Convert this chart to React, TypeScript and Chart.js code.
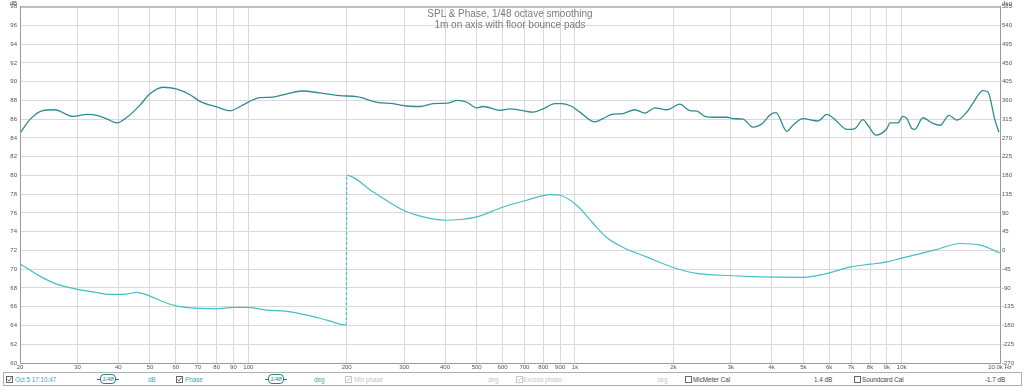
import React, { useEffect, useRef } from "react";
import { Chart, registerables } from "chart.js";

Chart.register(...registerables);

// ---------- data ----------
const xTickValues = [20, 30, 40, 50, 60, 70, 80, 90, 100, 200, 300, 400, 500, 600, 700, 800, 900, 1000, 2000, 3000, 4000, 5000, 6000, 7000, 8000, 9000, 10000, 20000];
const xTickLabels = ["20", "30", "40", "50", "60", "70", "80", "90", "100", "200", "300", "400", "500", "600", "700", "800", "900", "1k", "2k", "3k", "4k", "5k", "6k", "7k", "8k", "9k", "10k", "20.0k Hz"];

const splFreq = [20.1, 21.5, 23.5, 25.5, 29.1, 32.1, 34.4, 37, 39.6, 42.5, 46.6, 50, 54.8, 60.5, 66.3, 71.1, 80, 87.9, 95, 101, 108.6, 119, 131.4, 146, 165.7, 190.7, 215, 247.6, 277.2, 306, 335.3, 367.5, 405.5, 438.2, 467, 500.8, 522.5, 589.3, 632.3, 693, 743.6, 798, 868.5, 912.4, 978.6, 1035, 1150, 1217, 1297, 1402, 1525, 1637, 1756, 1910, 2094, 2247, 2361, 2498, 2720, 2918, 3044, 3267, 3505, 3761, 3951, 4122, 4455, 4647, 4985, 5541, 5905, 6250, 6802, 7195, 7611, 7883, 8340, 9015, 9208, 9742, 10090, 10377, 10750, 10978, 11615, 12382, 13100, 13960, 14770, 15960, 16530, 17730, 18370, 19290, 19850];
const splDb = [84.6, 86.0, 86.9, 87.0, 86.3, 86.5, 86.4, 86.0, 85.6, 86.2, 87.5, 88.7, 89.4, 89.2, 88.6, 87.9, 87.3, 86.9, 87.4, 87.9, 88.3, 88.35, 88.7, 89.0, 88.8, 88.5, 88.4, 87.8, 87.65, 87.4, 87.35, 87.65, 87.7, 88.0, 87.8, 87.2, 87.35, 86.95, 87.1, 86.9, 86.75, 87.1, 87.65, 87.65, 87.35, 86.75, 85.7, 86.05, 86.5, 86.6, 87.0, 86.65, 87.2, 87.0, 87.6, 86.9, 86.85, 86.3, 86.2, 86.2, 86.05, 86.0, 85.15, 85.6, 86.45, 86.7, 84.7, 85.35, 86.05, 85.8, 86.5, 85.95, 84.9, 85.0, 85.95, 85.35, 84.3, 85.0, 85.6, 85.6, 86.3, 86.05, 85.0, 84.9, 86.15, 85.6, 85.35, 86.4, 85.9, 86.9, 87.7, 89.05, 88.9, 85.95, 84.6];

const phaseFreq = [20.1, 23.0, 25.9, 29.8, 33.5, 37.7, 42.4, 45.5, 50, 54.9, 60.4, 66.3, 71.1, 80, 89.7, 98.8, 113.8, 131.1, 150.9, 173.8, 199.5, 200, 241.2, 298, 343.2, 400, 444.5, 500, 603, 711, 838, 899, 1012, 1137, 1250, 1405, 1657, 2000, 2356, 2800, 3500, 4200, 5000, 5781, 6977, 8035, 9030, 9925, 12560, 15150, 17440, 19950];
const phaseDeg = [-33, -61.6, -80.8, -92.8, -99.3, -105.5, -104.7, -100.7, -109.5, -123.2, -133.5, -137.6, -139, -140, -136.6, -136.6, -143, -146.2, -155, -167, -179, 180, 140.3, 96.4, 80.4, 72.5, 74.2, 80.4, 104.3, 120.4, 134, 132.4, 108.4, 64.6, 31, 7.1, -15.4, -40.8, -55.2, -59.5, -63, -64, -64.5, -57, -39.4, -32.9, -27.4, -19.2, 0.6, 16.7, 12.6, -5.8];

const titleLines = ["SPL & Phase, 1/48 octave smoothing", "1m on axis with floor bounce pads"];

const SPL_COLOR = "#2f8c93";
const PHASE_COLOR = "#44c0c4";
const TEAL_TEXT = "#3aa9b3";
const FONT = "'Liberation Sans', Arial, sans-serif";

const framePlugin = {
  id: "frame",
  afterDraw(chart: any) {
    const { ctx, chartArea } = chart;
    ctx.save();
    ctx.strokeStyle = "#9a9a9a";
    ctx.lineWidth = 1;
    ctx.strokeRect(chartArea.left + 0.5, chartArea.top + 0.5, chartArea.right - chartArea.left, chartArea.bottom - chartArea.top);
    ctx.fillStyle = "#555";
    ctx.font = `6px ${FONT}`;
    ctx.textBaseline = "alphabetic";
    ctx.textAlign = "right";
    ctx.fillText("dB", chartArea.left - 3, chartArea.top - 2);
    ctx.textAlign = "left";
    ctx.fillText("deg", chartArea.right + 2, chartArea.top - 2);
    ctx.restore();
  },
};

function CheckBox({ checked, dim }: { checked: boolean; dim?: boolean }) {
  const c = dim ? "#c8c8c8" : "#666";
  return (
    <svg width="7" height="7" style={{ position: "absolute", top: 3 }} viewBox="0 0 7 7">
      <rect x="0.5" y="0.5" width="6" height="6" fill="#fff" stroke={c} strokeWidth="1" />
      {checked && <polyline points="1.5,3.5 3,5 5.5,1.5" fill="none" stroke={dim ? "#c8c8c8" : "#555"} strokeWidth="0.9" />}
    </svg>
  );
}

function SmoothIcon({ left }: { left: number }) {
  return (
    <div style={{ position: "absolute", left, top: 1, width: 22, height: 10 }}>
      <div style={{ position: "absolute", left: 0, top: 5, width: 22, height: 1, background: "#2a7f86" }} />
      <div style={{ position: "absolute", left: 3, top: 0, width: 14, height: 8, border: "1px solid #2a7f86", borderRadius: 4, background: "#fff", fontSize: 6, lineHeight: "8px", textAlign: "center", color: "#2a7f86", fontStyle: "italic" }}>1/48</div>
    </div>
  );
}

function Txt({ left, color, children }: { left: number; color: string; children: any }) {
  return (
    <span style={{ position: "absolute", left, top: 2, fontSize: 6.3, lineHeight: "9px", color, whiteSpace: "nowrap" }}>{children}</span>
  );
}

export default function App() {
  const canvasRef = useRef<HTMLCanvasElement | null>(null);

  useEffect(() => {
    if (!canvasRef.current) return;
    const chart = new Chart(canvasRef.current, {
      type: "line",
      data: {
        datasets: [
          {
            label: "SPL",
            data: splFreq.map((f, i) => ({ x: f, y: splDb[i] })),
            borderColor: SPL_COLOR,
            borderWidth: 1.3,
            pointRadius: 0,
            cubicInterpolationMode: "monotone",
            yAxisID: "y",
          },
          {
            label: "Phase",
            data: phaseFreq.map((f, i) => ({ x: f, y: phaseDeg[i] })),
            borderColor: PHASE_COLOR,
            borderWidth: 1.2,
            pointRadius: 0,
            cubicInterpolationMode: "monotone",
            yAxisID: "y2",
            segment: {
              borderDash: (ctx: any) => (Math.abs(ctx.p1.parsed.y - ctx.p0.parsed.y) > 200 ? [3, 2] : undefined),
            },
          },
        ],
      },
      options: {
        animation: false,
        responsive: false,
        maintainAspectRatio: false,
        layout: { padding: { top: 6, left: 0, right: 0, bottom: 0 } },
        plugins: { legend: { display: false }, tooltip: { enabled: false }, title: { display: false } },
        scales: {
          x: {
            type: "logarithmic",
            min: 20,
            max: 20000,
            afterBuildTicks: (scale: any) => {
              scale.ticks = xTickValues.map((v) => ({ value: v }));
            },
            afterFit: (scale: any) => {
              scale.height = 24;
            },
            ticks: {
              autoSkip: false,
              maxRotation: 0,
              padding: 1,
              color: "#555",
              font: { size: 6, family: FONT },
              callback: (value: any) => {
                const i = xTickValues.indexOf(Number(value));
                return i >= 0 ? xTickLabels[i] : "";
              },
            },
            grid: { color: "#d9d9d9", lineWidth: 1, drawTicks: false },
            border: { color: "#9a9a9a" },
          },
          y: {
            type: "linear",
            position: "left",
            min: 60,
            max: 98,
            afterFit: (scale: any) => {
              scale.width = 20;
            },
            ticks: { stepSize: 2, padding: 3, color: "#555", font: { size: 6, family: FONT } },
            grid: { color: "#d9d9d9", lineWidth: 1, drawTicks: false },
            border: { color: "#9a9a9a" },
          },
          y2: {
            type: "linear",
            position: "right",
            min: -270,
            max: 585,
            afterFit: (scale: any) => {
              scale.width = 24;
            },
            ticks: { stepSize: 45, padding: 2, color: "#555", font: { size: 6, family: FONT } },
            grid: { display: false, drawTicks: false },
            border: { color: "#9a9a9a" },
          },
        },
      },
      plugins: [framePlugin],
    } as any);
    return () => chart.destroy();
  }, []);

  return (
    <div style={{ position: "fixed", left: 0, top: 0, width: 1024, height: 387, background: "#fff", fontFamily: FONT, overflow: "hidden" }}>
      <canvas ref={canvasRef} width={1024} height={387} style={{ width: 1024, height: 387, display: "block" }} />
      <div style={{ position: "absolute", left: 510, top: 8, transform: "translateX(-50%)", textAlign: "center", color: "#7c7c7c", fontSize: 10, lineHeight: "11px", whiteSpace: "nowrap", pointerEvents: "none" }}>
        <div>{titleLines[0]}</div>
        <div>{titleLines[1]}</div>
      </div>
      <div style={{ position: "absolute", left: 3, top: 372, width: 1017, height: 12, border: "1px solid #b0b0b0", background: "#fff" }}>
        <div style={{ position: "absolute", left: 2 }}><CheckBox checked /></div>
        <Txt left={11} color={TEAL_TEXT}>Oct 5 17:10:47</Txt>
        <SmoothIcon left={93} />
        <Txt left={144} color={TEAL_TEXT}>dB</Txt>
        <div style={{ position: "absolute", left: 172 }}><CheckBox checked /></div>
        <Txt left={181} color={TEAL_TEXT}>Phase</Txt>
        <SmoothIcon left={261} />
        <Txt left={310} color={TEAL_TEXT}>deg</Txt>
        <div style={{ position: "absolute", left: 341 }}><CheckBox checked dim /></div>
        <Txt left={350} color="#c4c4c4">Min phase</Txt>
        <Txt left={484} color="#c4c4c4">deg</Txt>
        <div style={{ position: "absolute", left: 512 }}><CheckBox checked dim /></div>
        <Txt left={519} color="#c4c4c4">Excess phase</Txt>
        <Txt left={653} color="#c4c4c4">deg</Txt>
        <div style={{ position: "absolute", left: 681 }}><CheckBox checked={false} /></div>
        <Txt left={689} color="#444">MicMeter Cal</Txt>
        <Txt left={810} color="#444">1.4 dB</Txt>
        <div style={{ position: "absolute", left: 850 }}><CheckBox checked={false} /></div>
        <Txt left={858} color="#444">Soundcard Cal</Txt>
        <Txt left={981} color="#444">-1.7 dB</Txt>
      </div>
    </div>
  );
}
